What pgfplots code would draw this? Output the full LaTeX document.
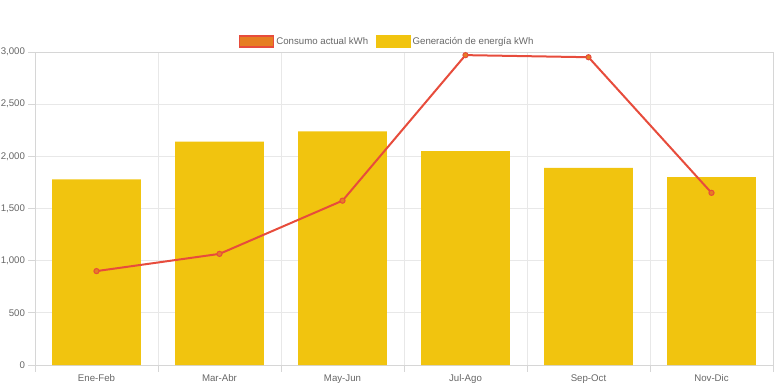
\documentclass[border=0pt]{standalone}
\usepackage{fontspec}
\setmainfont{Liberation Sans}
\usepackage{pgfplots}
\pgfplotsset{compat=1.18}
\definecolor{barY}{HTML}{F1C40F}
\definecolor{lineR}{HTML}{E74C3C}
\definecolor{legO}{HTML}{E67E22}
\definecolor{gridc}{HTML}{E8E8E8}
\definecolor{axc}{HTML}{D6D6D6}
\definecolor{txt}{HTML}{666666}
\begin{document}
\begin{tikzpicture}
\begin{axis}[
  at={(35bp,23bp)}, anchor=south west,
  scale only axis, width=738bp, height=313bp,
  xmin=-0.5, xmax=5.5, ymin=0, ymax=3000,
  xtick={-0.5,0.5,...,5.5}, xticklabels={},
  extra x ticks={0,1,2,3,4,5},
  extra x tick labels={Ene-Feb,Mar-Abr,May-Jun,Jul-Ago,Sep-Oct,Nov-Dic},
  extra x tick style={major tick length=0pt, xmajorgrids=false},
  ytick={0,500,...,3000},
  xtick pos=bottom, ytick pos=left,
  xmajorgrids, ymajorgrids,
  major grid style={draw=gridc, line width=0.8bp},
  axis line style={draw=axc, line width=0.8bp},
  tick align=outside, major tick length=6.5bp,
  tick style={draw=axc, line width=0.8bp},
  tick label style={font=\fontsize{9.7}{11}\selectfont, text=txt},
  xticklabel style={yshift=-6bp},
  /pgf/number format/assume math mode=true,
  /pgf/number format/1000 sep={,},
  scaled y ticks=false,
  legend columns=2,
  legend style={at={(0.477,1.033)}, anchor=center, draw=none, fill=none,
    font=\fontsize{9.7}{11}\selectfont, text=txt,
    /tikz/every even column/.append style={column sep=6bp}},
  legend cell align=left,
  clip=false,
]
\addlegendimage{legend image code/.code={\draw[draw=lineR, fill=legO, line width=1.8bp] (0bp,-5.5bp) rectangle (34bp,5.5bp);}}
\addlegendentry{Consumo actual kWh}
\addlegendimage{legend image code/.code={\fill[barY] (0bp,-6bp) rectangle (34bp,6bp);}}
\addlegendentry{Generación de energía kWh}

\addplot[ybar, bar width=0.72, fill=barY, draw=none, forget plot]
  coordinates {(0,1780) (1,2140) (2,2240) (3,2050) (4,1890) (5,1800)};
\addplot[lineR, line width=2bp, mark=*, mark size=2.6bp,
  mark options={fill=legO, draw=lineR, line width=1bp}, forget plot]
  coordinates {(0,900) (1,1065) (2,1575) (3,2970) (4,2950) (5,1650)};
\end{axis}
\pgfresetboundingbox
\path (0,0) rectangle (776bp,388bp);
\end{tikzpicture}
\end{document}
